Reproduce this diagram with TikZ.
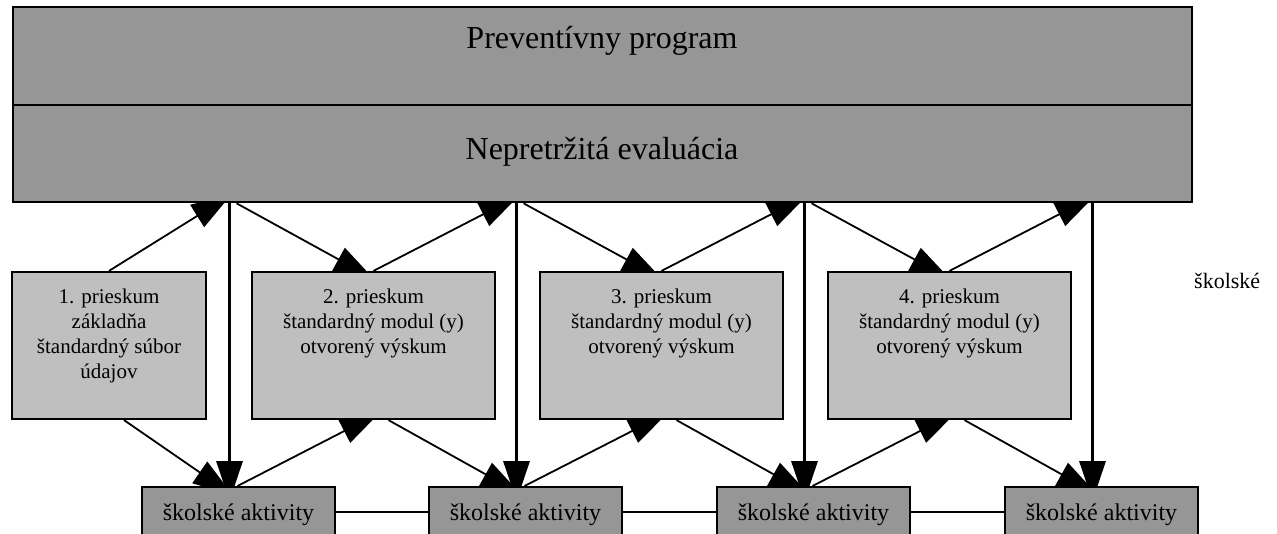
\documentclass[tikz,border=0pt]{standalone}
\usepackage{fontspec}
\setmainfont{Liberation Serif}
\usetikzlibrary{arrows.meta}
\pgfdeclarelayer{background}
\pgfsetlayers{background,main}
\newcommand{\bigtext}{\fontsize{32}{38}\selectfont}
\newcommand{\boxtext}{\fontsize{21}{25}\selectfont}
\newcommand{\acttext}{\fontsize{24}{28}\selectfont}

\begin{document}
\begin{tikzpicture}[x=1pt, y=-1pt,
evalbox/.style = {rectangle, draw=black, line width=2.6pt, fill=gray!82!black!70, minimum width=1179pt},
surveybox/.style = {rectangle, draw=black, line width=2.2pt, fill=black!25, minimum height=147pt},
actbox/.style = {rectangle, draw=black, line width=2pt, fill=gray!82!black!70, minimum width=193pt, minimum height=50pt},
label/.style = {inner sep=0pt, align=center},
arr/.style = {line width=1.8pt, -{Triangle[length=40pt,width=26pt]}, shorten >=-16pt},
thickarr/.style = {line width=3.2pt, -{Triangle[length=40pt,width=26pt]}, shorten >=-15pt}]
\useasboundingbox (0,0) rectangle (1277,534);

% top block
\node[evalbox, minimum height=98pt] at (602.5,56) (prog) {};
\node[evalbox, minimum height=97pt] at (602.5,153.5) (eval) {};
\node[label, font=\bigtext, anchor=base] at (602,49) (progt) {Preventívny program};
\node[label, font=\bigtext, anchor=base] at (602,160) (evalt) {Nepretržitá evaluácia};

% surveys
\node[surveybox, minimum width=194pt] at (109,345.5) (p1) {};
\node[surveybox, minimum width=243pt] at (373.5,345.5) (p2) {};
\node[surveybox, minimum width=243pt] at (661.5,345.5) (p3) {};
\node[surveybox, minimum width=243pt] at (949.5,345.5) (p4) {};
\node[label, font=\boxtext, anchor=north] at ([yshift=-18pt]p1.north) (p1t) {1. prieskum\\základňa\\štandardný súbor\\údajov};
\node[label, font=\boxtext, anchor=north] at ([yshift=-18pt]p2.north) (p2t) {2. prieskum\\štandardný modul (y)\\otvorený výskum};
\node[label, font=\boxtext, anchor=north] at ([yshift=-18pt]p3.north) (p3t) {3. prieskum\\štandardný modul (y)\\otvorený výskum};
\node[label, font=\boxtext, anchor=north] at ([yshift=-18pt]p4.north) (p4t) {4. prieskum\\štandardný modul (y)\\otvorený výskum};

% school activities
\node[actbox] at (238.5,512) (a1) {};
\node[actbox] at (525.5,512) (a2) {};
\node[actbox] at (813.5,512) (a3) {};
\node[actbox] at (1101.5,512) (a4) {};
\node[label, font=\acttext, anchor=base] at (238.5,520) (a1t) {školské aktivity};
\node[label, font=\acttext, anchor=base] at (525.5,520) (a2t) {školské aktivity};
\node[label, font=\acttext, anchor=base] at (813.5,520) (a3t) {školské aktivity};
\node[label, font=\acttext, anchor=base] at (1101.5,520) (a4t) {školské aktivity};

\node[label, font=\fontsize{22}{26}\selectfont, anchor=base west] at (1194,289) (rest) {školské};

\begin{pgfonlayer}{background}
\draw [thickarr] ([xshift=-9pt]a1.north |- eval.south) -- ([xshift=-9pt]a1.north);
\draw [thickarr] ([xshift=-9pt]a2.north |- eval.south) -- ([xshift=-9pt]a2.north);
\draw [thickarr] ([xshift=-9pt]a3.north |- eval.south) -- ([xshift=-9pt]a3.north);
\draw [thickarr] ([xshift=-9pt]a4.north |- eval.south) -- ([xshift=-9pt]a4.north);

\draw [arr] (p1.north) -- ([xshift=-21pt]a1.north |- eval.south);
\draw [arr] (p2.north) -- ([xshift=-21pt]a2.north |- eval.south);
\draw [arr] (p3.north) -- ([xshift=-21pt]a3.north |- eval.south);
\draw [arr] (p4.north) -- ([xshift=-21pt]a4.north |- eval.south);

\draw [arr] ([xshift=-2pt]a1.north |- eval.south) -- ([xshift=-14pt]p2.north);
\draw [arr] ([xshift=-2pt]a2.north |- eval.south) -- ([xshift=-14pt]p3.north);
\draw [arr] ([xshift=-2pt]a3.north |- eval.south) -- ([xshift=-14pt]p4.north);

\draw [arr] ([xshift=15pt]p1.south) -- ([xshift=-19pt]a1.north);
\draw [arr] ([xshift=15pt]p2.south) -- ([xshift=-19pt]a2.north);
\draw [arr] ([xshift=15pt]p3.south) -- ([xshift=-19pt]a3.north);
\draw [arr] ([xshift=15pt]p4.south) -- ([xshift=-19pt]a4.north);

\draw [arr] ([xshift=-1pt]a1.north) -- ([xshift=-8pt]p2.south);
\draw [arr] ([xshift=-1pt]a2.north) -- ([xshift=-8pt]p3.south);
\draw [arr] ([xshift=-1pt]a3.north) -- ([xshift=-8pt]p4.south);

\draw [line width=1.6pt] (a1) -- (a2);
\draw [line width=1.6pt] (a2) -- (a3);
\draw [line width=1.6pt] (a3) -- (a4);
\end{pgfonlayer}

\end{tikzpicture}
\end{document}
